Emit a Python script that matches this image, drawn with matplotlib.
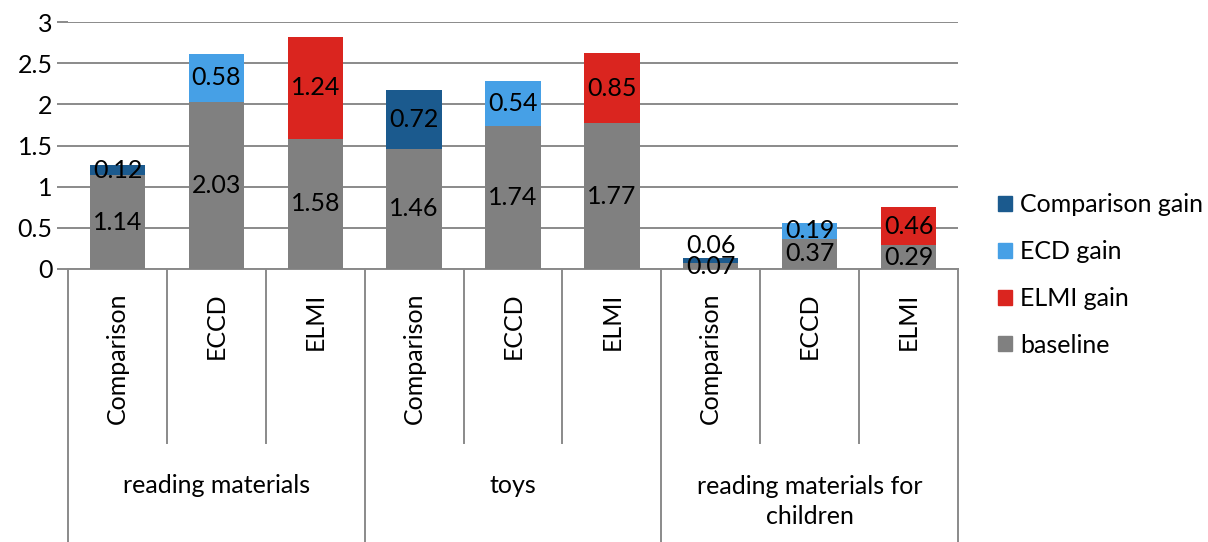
import numpy as np
import matplotlib.pyplot as plt
from matplotlib.transforms import blended_transform_factory
from matplotlib.patches import Patch

plt.rcParams['font.family'] = ['Lato', 'DejaVu Sans']

# Category labels
methods = ["Comparison", "ECCD", "ELMI"] * 3
groups = ["reading materials", "toys", "reading materials for\nchildren"]

# Stacked values for each bar
baseline = [1.14, 2.03, 1.58, 1.46, 1.74, 1.77, 0.07, 0.37, 0.29]
comparison_gain = [0.12, 0, 0, 0.72, 0, 0, 0.06, 0, 0]
ecd_gain = [0, 0.58, 0, 0, 0.54, 0, 0, 0.19, 0]
elmi_gain = [0, 0, 1.24, 0, 0, 0.85, 0, 0, 0.46]

series = [
    ("baseline", baseline, "#808080"),
    ("Comparison gain", comparison_gain, "#1B5A8E"),
    ("ECD gain", ecd_gain, "#46A0E6"),
    ("ELMI gain", elmi_gain, "#DA251F"),
]

FS = 18
W, H = 1208, 542
fig = plt.figure(figsize=(W / 100, H / 100), dpi=100)
ax = fig.add_axes([68 / W, (H - 269) / H, (958 - 68) / W, (269 - 22) / H])

x = np.arange(len(methods))
bottom = np.zeros(len(methods))
for name, vals, color in series:
    vals = np.array(vals, dtype=float)
    ax.bar(x, vals, width=0.56, bottom=bottom, color=color, label=name, zorder=3)
    for i, v in enumerate(vals):
        if v <= 0:
            continue
        yc = bottom[i] + v / 2
        if name != "baseline" and v < 0.1:
            # thin segment: put its label above the bar
            yc = bottom[i] + v + 0.16
        ax.text(x[i], yc, f"{v:.2f}", ha="center", va="center",
                fontsize=FS, color="black", zorder=4)
    bottom += vals

ax.set_xlim(-0.5, len(methods) - 0.5)
ax.set_ylim(0, 3)
ax.set_yticks(np.arange(0, 3.01, 0.5))
ax.set_yticklabels(["0", "0.5", "1", "1.5", "2", "2.5", "3"])
ax.yaxis.grid(True, color="#8A8A8A", linewidth=1.4, zorder=0)
ax.tick_params(axis="y", length=8, color="#8A8A8A", width=1.4, labelsize=FS, pad=3)
ax.tick_params(axis="x", length=0, labelbottom=False)
for s in ["left", "right", "top"]:
    ax.spines[s].set_visible(False)
ax.spines["bottom"].set_color("#8A8A8A")
ax.spines["bottom"].set_linewidth(1.4)

# Two-level category axis below the plot
tr = blended_transform_factory(ax.transData, ax.transAxes)
for k in range(len(methods) + 1):
    xb = k - 0.5
    y_end = -1.12 if k % 3 == 0 else -0.705
    ax.plot([xb, xb], [0, y_end], transform=tr, color="#8A8A8A",
            linewidth=1.4, clip_on=False)
for i, m in enumerate(methods):
    ax.text(x[i], -0.095, m, transform=tr, rotation=90, ha="center", va="top",
            fontsize=FS)
for g, name in enumerate(groups):
    ax.text(3 * g + 1, -0.875 if "\n" not in name else -0.94, name,
            transform=tr, ha="center", va="center", fontsize=FS,
            linespacing=1.35)

handles = [Patch(color=c) for _, _, c in
           [series[1], series[2], series[3], series[0]]]
labels = ["Comparison gain", "ECD gain", "ELMI gain", "baseline"]
fig.legend(handles, labels, loc="center left", bbox_to_anchor=(998 / W, 1 - 275 / H),
           frameon=False, fontsize=FS, handlelength=0.55, handleheight=0.55,
           handletextpad=0.35, labelspacing=0.95, borderpad=0, borderaxespad=0)

fig.savefig("out.png", dpi=100)
